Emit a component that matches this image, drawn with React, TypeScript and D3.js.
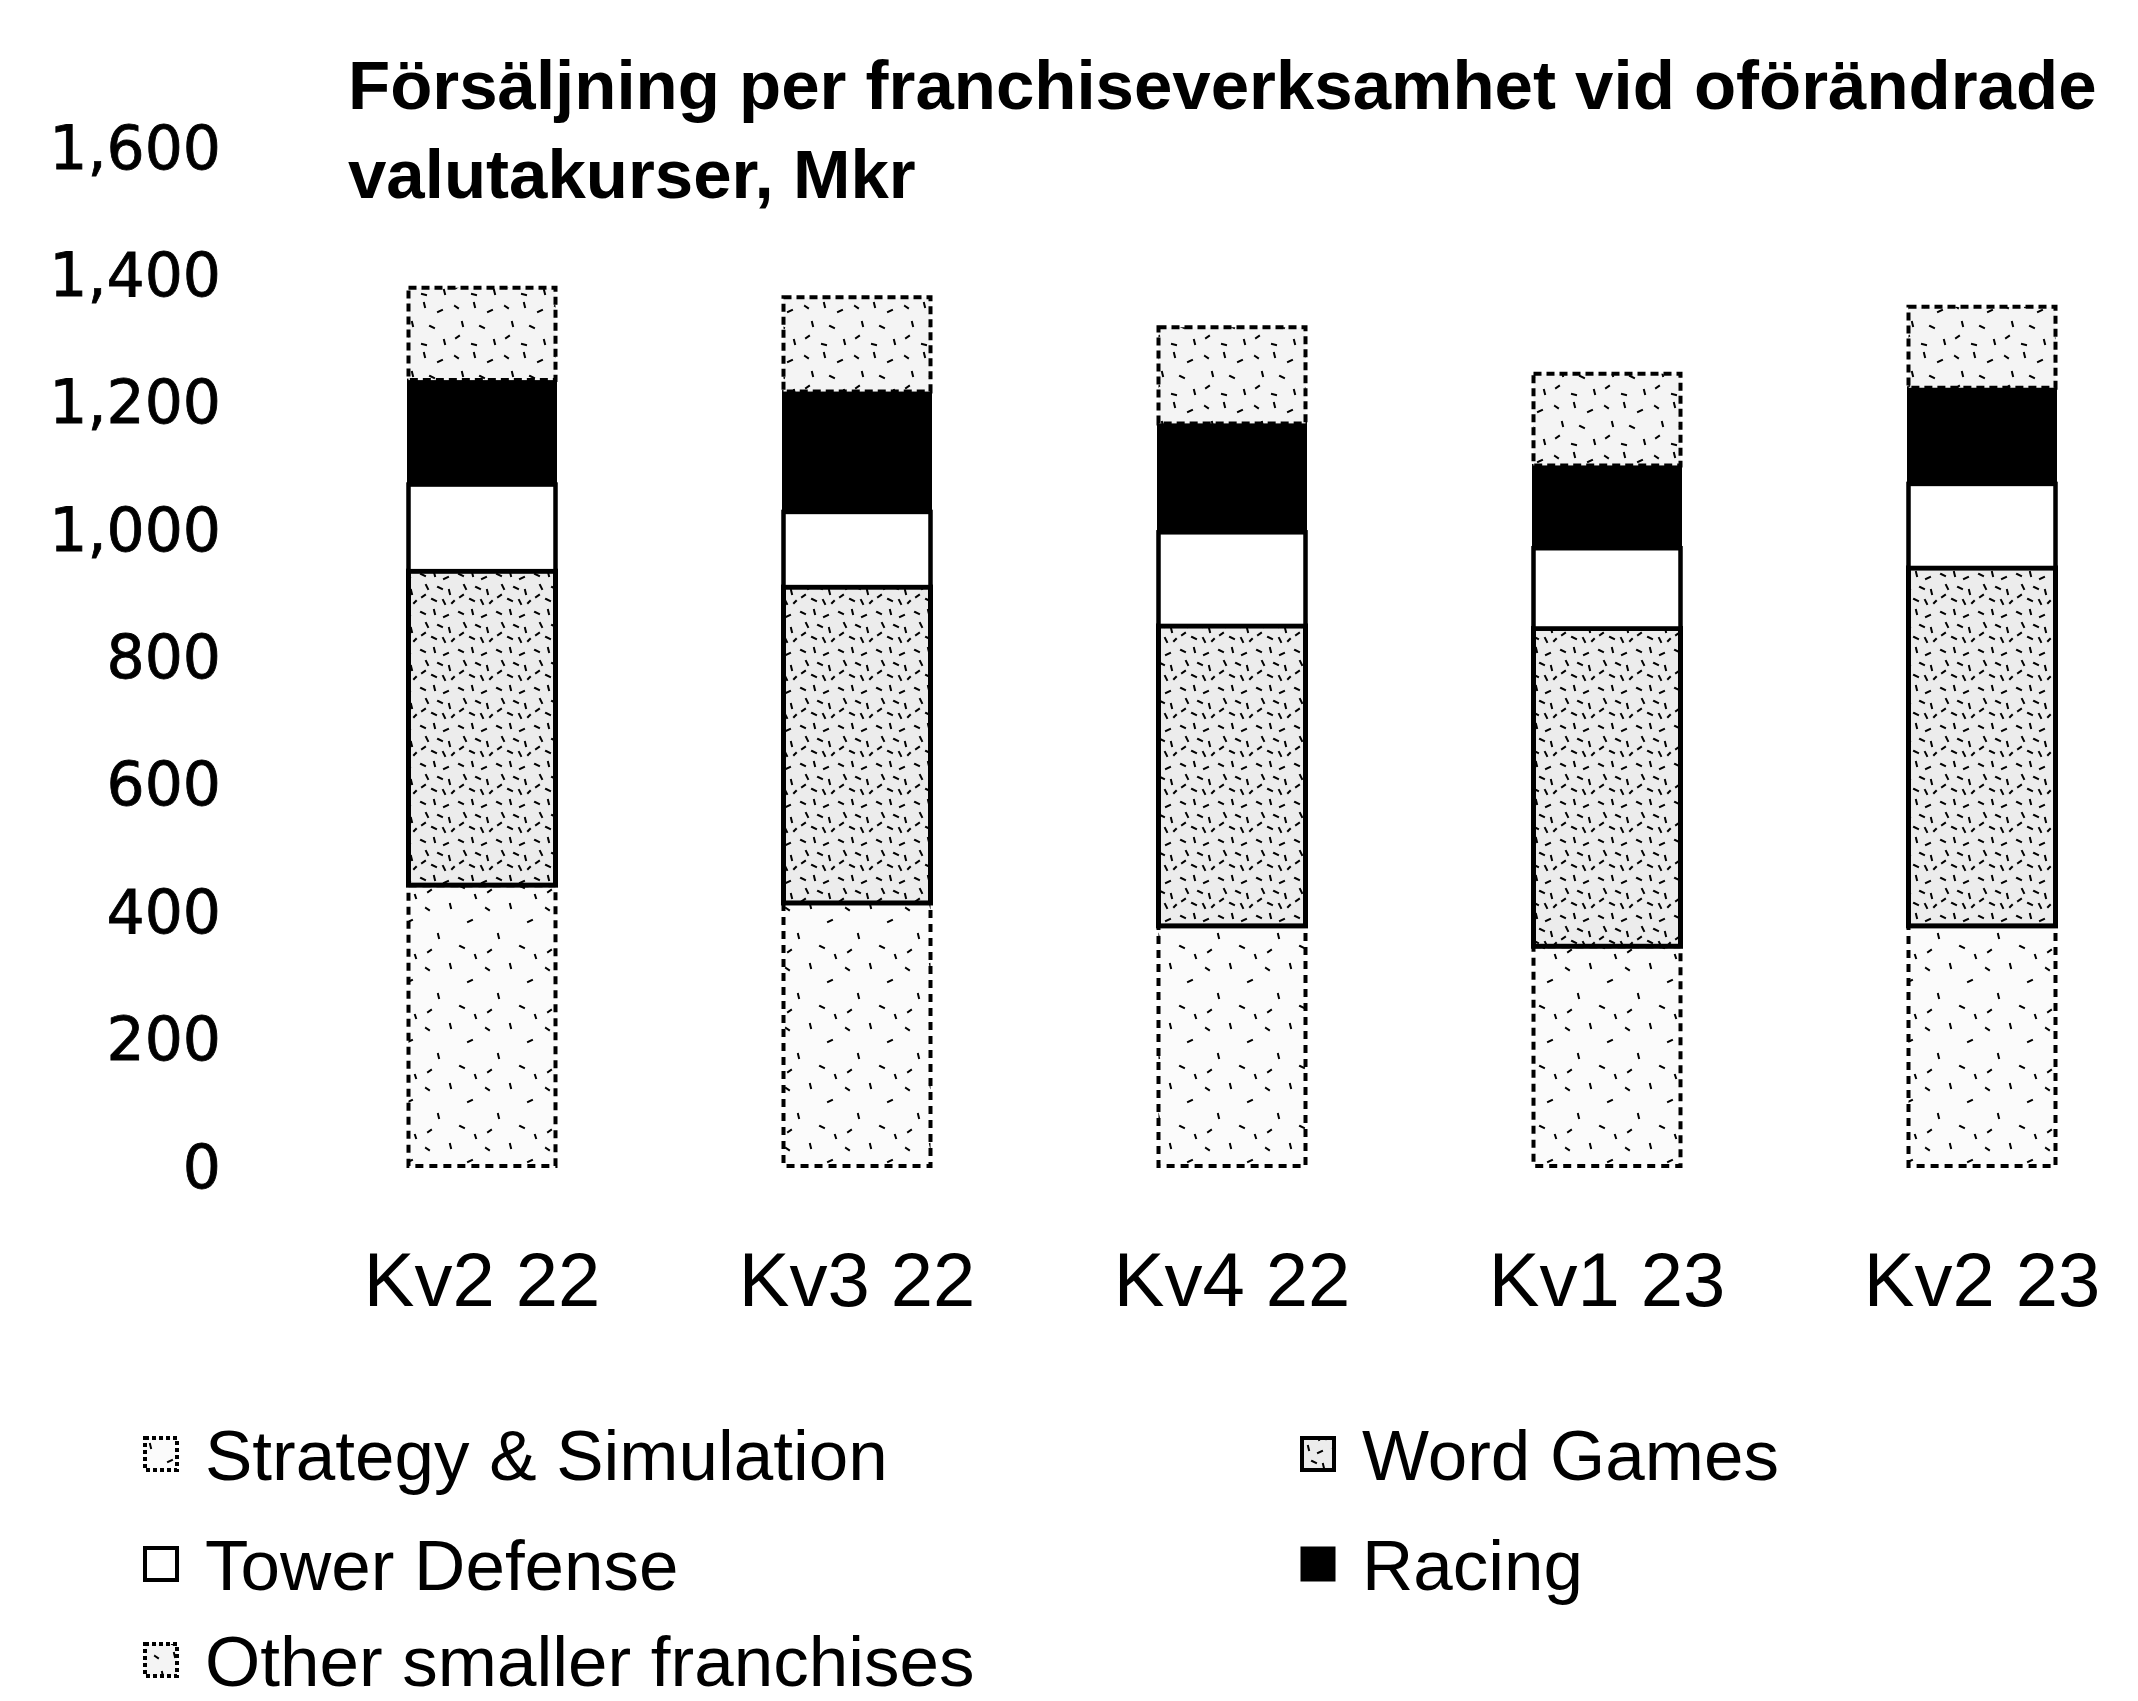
import React from 'react';
import * as d3 from 'd3';

const categories = ['Kv2 22', 'Kv3 22', 'Kv4 22', 'Kv1 23', 'Kv2 23'];
const seriesNames = ['Strategy & Simulation', 'Word Games', 'Tower Defense', 'Racing', 'Other smaller franchises'];
const strategySimulation = [441, 413, 377, 345, 377];
const wordGames = [493, 496, 471, 499, 562];
const towerDefense = [136, 118, 147, 126, 132];
const racing = [164, 189, 171, 130, 151];
const otherSmaller = [145, 148, 151, 144, 127];
const yTicks = [0, 200, 400, 600, 800, 1000, 1200, 1400, 1600];
const titleLines = ['Försäljning per franchiseverksamhet vid oförändrade', 'valutakurser, Mkr'];

const W = 2138;
const H = 1701;

// texture marks (styling only)
const sparseMarks = [
  [6, 8, 9, 10], [30, 4, 31, 8], [48, 22, 52, 20], [18, 34, 19, 38], [40, 46, 44, 48], [8, 52, 11, 50], [55, 55, 56, 58],
];
const denseMarks = [
  [3, 4, 7, 6], [16, 2, 17, 6], [26, 9, 30, 7], [8, 15, 10, 19], [20, 17, 24, 19], [31, 20, 32, 24],
  [4, 27, 7, 25], [14, 29, 18, 31], [25, 30, 27, 34], [34, 33, 36, 31],
];
const otherMarks = [
  [5, 6, 8, 8], [24, 3, 25, 7], [38, 12, 42, 10], [12, 22, 13, 26], [30, 26, 34, 28], [6, 38, 9, 36], [44, 40, 45, 44], [22, 44, 26, 45],
];

const styles: Record<string, { fill: string; dash: string; sw: number }> = {
  'Strategy & Simulation': { fill: 'url(#pStrategy)', dash: '8 6', sw: 4 },
  'Word Games': { fill: 'url(#pWord)', dash: '', sw: 5 },
  'Tower Defense': { fill: '#ffffff', dash: '', sw: 4.5 },
  'Racing': { fill: '#000000', dash: '', sw: 3 },
  'Other smaller franchises': { fill: 'url(#pOther)', dash: '8 5', sw: 4 },
};

export default function App() {
  const y = d3.scaleLinear().domain([0, 1600]).range([1166, 147]);
  const x = d3.scaleBand<string>().domain(categories).range([294.5, 2169.5]).paddingInner(0.608).paddingOuter(0.304);

  const rows = categories.map((c, i) => ({
    cat: c,
    'Strategy & Simulation': strategySimulation[i],
    'Word Games': wordGames[i],
    'Tower Defense': towerDefense[i],
    'Racing': racing[i],
    'Other smaller franchises': otherSmaller[i],
  }));
  const stacked = d3.stack<any>().keys(seriesNames)(rows);

  const legendPos = (i: number) => ({ lx: i % 2 === 0 ? 143 : 1300, ly: [1480, 1590, 1686][Math.floor(i / 2)] });

  const marks = (arr: number[][], w: number) =>
    arr.map((m, k) => <line key={k} x1={m[0]} y1={m[1]} x2={m[2]} y2={m[3]} stroke="#000" strokeWidth={w} strokeLinecap="square" />);

  return (
    <svg width={W} height={H} style={{ position: 'absolute', left: 0, top: 0, background: '#fff' }}>
      <defs>
        <pattern id="pStrategy" width={60} height={60} patternUnits="userSpaceOnUse">
          <rect width={60} height={60} fill="#fbfbfb" />
          {marks(sparseMarks, 2)}
        </pattern>
        <pattern id="pWord" width={38} height={38} patternUnits="userSpaceOnUse">
          <rect width={38} height={38} fill="#ececec" />
          {marks(denseMarks, 2)}
        </pattern>
        <pattern id="pOther" width={50} height={50} patternUnits="userSpaceOnUse">
          <rect width={50} height={50} fill="#f4f4f4" />
          {marks(otherMarks, 2)}
        </pattern>
      </defs>
      <rect width={W} height={H} fill="#fff" />

      {titleLines.map((t, i) => (
        <text key={i} x={348} y={109 + i * 89} fontFamily="'Liberation Sans', Arial, sans-serif" fontWeight="bold" fontSize={69} fill="#000">
          {t}
        </text>
      ))}

      {yTicks.map((t) => (
        <text key={t} x={221} y={y(t)} dy="0.36em" textAnchor="end" fontFamily="'DejaVu Sans', sans-serif" fontSize={60} fill="#000" stroke="#000" strokeWidth={0.8}>
          {d3.format(',')(t)}
        </text>
      ))}

      {stacked.map((s) => {
        const st = styles[s.key];
        return (
          <g key={s.key}>
            {s.map((d, i) => (
              <rect
                key={i}
                x={x(categories[i])!}
                y={y(d[1])}
                width={x.bandwidth()}
                height={y(d[0]) - y(d[1])}
                fill={st.fill}
                stroke="#000"
                strokeWidth={st.sw}
                strokeDasharray={st.dash || undefined}
              />
            ))}
          </g>
        );
      })}

      {categories.map((c) => (
        <text key={c} x={x(c)! + x.bandwidth() / 2} y={1306} textAnchor="middle" fontFamily="'Liberation Sans', Arial, sans-serif" fontSize={76} fill="#000">
          {c}
        </text>
      ))}

      {seriesNames.map((n, i) => {
        const { lx, ly } = legendPos(i);
        const st = styles[n];
        return (
          <g key={n}>
            <rect x={lx + 2} y={ly - 42} width={32} height={32} fill={st.fill} stroke="#000" strokeWidth={Math.min(st.sw, 4)} strokeDasharray={st.dash ? '4 3' : undefined} />
            <text x={lx + 62} y={ly} fontFamily="'Liberation Sans', Arial, sans-serif" fontSize={71} fill="#000">
              {n}
            </text>
          </g>
        );
      })}
    </svg>
  );
}
